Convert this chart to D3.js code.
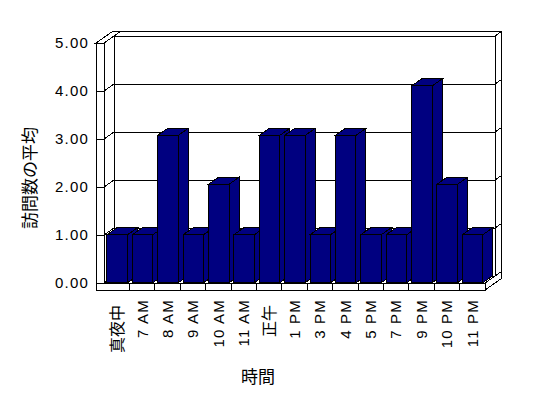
<!DOCTYPE html>
<html>
<head>
<meta charset="utf-8">
<script src="https://cdn.jsdelivr.net/npm/d3@7"></script>
<style>
	body { margin: 0; background: #fff; }
	text { font-family: "Liberation Sans", Arial, "Noto Sans CJK JP", sans-serif; fill: #000; }
	text.cjk { font-family: "Noto Sans CJK JP", sans-serif; }
</style>
</head>
<body>
<div id="chart"></div>
<script>
(function () {
	'use strict';

	// data
	var categories = ['真夜中', '7 AM', '8 AM', '9 AM', '10 AM', '11 AM', '正午', '1 PM',
		'3 PM', '4 PM', '5 PM', '7 PM', '9 PM', '10 PM', '11 PM'];
	var visits = [1, 1, 3.07, 1, 2.05, 1, 3.07, 3.07, 1, 3.07, 1, 1, 4.1, 2.05, 1];
	var yTicks = [0, 1, 2, 3, 4, 5];
	var yTitle = '訪問数の平均';
	var xTitle = '時間';

	var width = 548, height = 398;
	// front plane of the plot box
	var xL0 = 96, xL = 104, xR = 485;
	var yF = 290;
	// depth vector (one unit = front to back wall)
	var DX = 10, DY = -7, back = 1.6;

	var y = d3.scaleLinear().domain([0, 5]).range([283, 43]);
	var yB = y(0), yT = y(5);
	var x = d3.scaleBand().domain(categories).range([xL, xR])
		.paddingInner(0.19).paddingOuter(0.1);
	var xEdge = d3.scaleLinear().domain([0, categories.length]).range([xL, xR]);

	var svg = d3.select('#chart').append('svg:svg')
		.attr('width', width)
		.attr('height', height)
		.style('background-color', '#fff');
	var g = svg.append('g').attr('shape-rendering', 'crispEdges');

	function P(px, py, z) {
		return [px + z * DX, py + z * DY];
	}
	function poly(pts, fill) {
		return g.append('polygon')
			.attr('points', pts.map(function (p) { return p.join(','); }).join(' '))
			.attr('fill', fill)
			.attr('stroke', '#000')
			.attr('stroke-width', 1)
			.attr('stroke-linejoin', 'miter');
	}
	function line(pts) {
		return g.append('polyline')
			.attr('points', pts.map(function (p) { return p.join(','); }).join(' '))
			.attr('fill', 'none')
			.attr('stroke', '#000')
			.attr('stroke-width', 1);
	}

	// back wall
	poly([P(xL, yT, 1), P(xR, yT, 1), P(xR, yT, back), P(xL, yT, back)], '#fff');
	poly([P(xL, yT, 1), P(xR, yT, 1), P(xR, yB, 1), P(xL, yB, 1)], '#fff');
	// right side (floor + back wall edge)
	poly([P(xR, yB, 0), P(xR, yB, 1), P(xR, yT, 1), P(xR, yT, back), P(xR, yF, back), P(xR, yF, 0)], '#fff');
	// left wall
	poly([P(xL0, yT, 0), P(xL, yT, 0), P(xL, yT, back), P(xL0, yT, back)], '#fff');
	poly([P(xL, yT, 0), P(xL, yT, 1), P(xL, yB, 1), P(xL, yB, 0)], '#fff');
	// floor top
	poly([P(xL, yB, 0), P(xR, yB, 0), P(xR, yB, 1), P(xL, yB, 1)], '#fff');
	// front L (left wall face + floor face)
	poly([P(xL0, yT, 0), P(xL, yT, 0), P(xL, yB, 0), P(xR, yB, 0), P(xR, yF, 0), P(xL0, yF, 0)], '#fff');

	// gridlines
	yTicks.forEach(function (v) {
		line([P(xL, y(v), 0), P(xL, y(v), 1), P(xR, y(v), 1), P(xR, y(v), back)]);
	});

	// bars, left to right
	var z0 = 0.04, z1 = 1.04;
	categories.forEach(function (c, i) {
		var x0 = x(c), x1 = x(c) + x.bandwidth(), yt = y(visits[i]);
		poly([P(x0, yt, z0), P(x1, yt, z0), P(x1, yt, z1), P(x0, yt, z1)], '#000080');
		poly([P(x1, yt, z0), P(x1, yt, z1), P(x1, yB, z1), P(x1, yB, z0)], '#000080');
		poly([P(x0, yt, z0), P(x1, yt, z0), P(x1, yB, z0), P(x0, yB, z0)], '#000080');
	});

	// ticks on the front faces
	yTicks.forEach(function (v) {
		line([[xL0, y(v)], [xL, y(v)]]);
	});
	d3.range(1, categories.length).forEach(function (k) {
		line([[xEdge(k), yB], [xEdge(k), yF]]);
	});

	// y labels
	svg.append('g').selectAll('text').data(yTicks).join('text')
		.attr('x', 89)
		.attr('y', function (d) { return y(d); })
		.attr('dy', '0.36em')
		.attr('text-anchor', 'end')
		.attr('font-size', 15)
		.attr('letter-spacing', 1.2)
		.text(d3.format('.2f'));

	// category labels
	var cjk = /[^\x00-\x7f]/;
	svg.append('g')
		.selectAll('text').data(categories).join('text')
		.attr('class', function (d) { return cjk.test(d) ? 'cjk' : null; })
		.attr('transform', function (d) {
			var top = cjk.test(d) ? 305 : 299;
			return 'translate(' + (x(d) + x.bandwidth() / 2) + ',' + top + ') rotate(-90)';
		})
		.attr('dy', '0.36em')
		.attr('text-anchor', 'end')
		.attr('font-size', function (d) { return cjk.test(d) ? 16 : 15; })
		.attr('letter-spacing', function (d) { return cjk.test(d) ? 0 : 1.2; })
		.attr('fill', '#000')
		.text(function (d) { return d; });

	// axis titles
	svg.append('text')
		.attr('transform', 'translate(30,178) rotate(-90)')
		.attr('dy', '0.36em')
		.attr('text-anchor', 'middle')
		.attr('font-size', 17)
		.text(yTitle);
	svg.append('text')
		.attr('x', 258)
		.attr('y', 377)
		.attr('dy', '0.36em')
		.attr('text-anchor', 'middle')
		.attr('font-size', 17)
		.text(xTitle);
}());
</script>
</body>
</html>
